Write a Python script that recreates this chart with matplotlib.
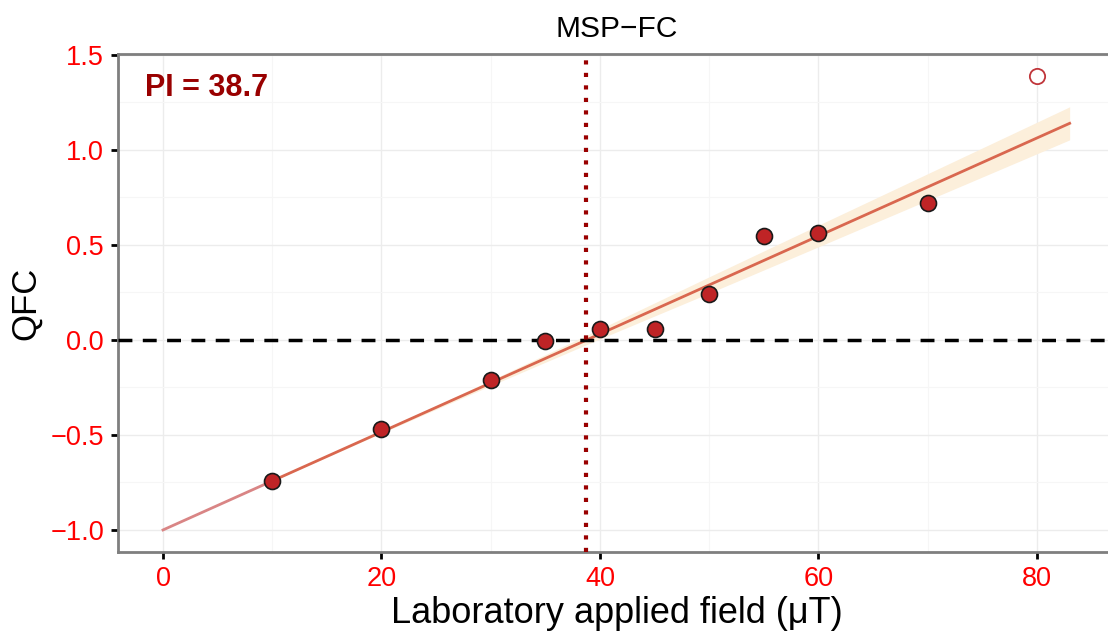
import numpy as np
import matplotlib
matplotlib.use("Agg")
import matplotlib.pyplot as plt
from matplotlib.ticker import MultipleLocator

plt.rcParams['font.family'] = ['Liberation Sans', 'DejaVu Sans']

# measured points (used in fit)
field = [10, 20, 30, 35, 40, 45, 50, 55, 60, 70]
qfc = [-0.74, -0.47, -0.21, -0.005, 0.055, 0.055, 0.24, 0.545, 0.565, 0.72]

# excluded point
field_out = [80]
qfc_out = [1.39]

# fitted line: extrapolated part and fitted range
ext_x = [0, 10]
ext_y = [-1.0, -0.742]
fit_x = [10, 83]
fit_y = [-0.742, 1.14]

# ribbon half-width
band_x = [10, 20, 30, 40, 50, 60, 70, 83]
band_hw = [0.002, 0.006, 0.014, 0.026, 0.043, 0.057, 0.070, 0.087]

pi_value = 38.7

fig = plt.figure(figsize=(11.08, 6.32), dpi=100)
ax = fig.add_axes([0.1065, 0.1266, 0.8998, 0.788])

# grid like ggplot theme_bw
ax.xaxis.set_major_locator(MultipleLocator(20))
ax.xaxis.set_minor_locator(MultipleLocator(10))
ax.yaxis.set_major_locator(MultipleLocator(0.5))
ax.yaxis.set_minor_locator(MultipleLocator(0.25))
ax.grid(True, which='major', color='#ececec', linewidth=1.0)
ax.grid(True, which='minor', color='#f6f6f6', linewidth=0.8)
ax.set_axisbelow(True)

# ribbon
line_band = np.interp(band_x, fit_x, fit_y)
ax.fill_between(band_x, line_band - np.array(band_hw), line_band + np.array(band_hw),
                color='#fcefdb', linewidth=0, zorder=2)

ax.plot(ext_x, ext_y, color='#d98585', linewidth=2, zorder=3)
ax.plot(fit_x, fit_y, color='#d9674f', linewidth=2, zorder=3)

ax.axhline(0, color='black', linestyle=(0, (4, 3)), linewidth=2.5, zorder=4)
ax.axvline(pi_value, color='#990000', linestyle=(0, (1, 2)), linewidth=3, zorder=4)

ax.plot(field, qfc, 'o', markersize=11.5, markerfacecolor='#bf2426',
        markeredgecolor='#1a1a1a', markeredgewidth=1.2, zorder=5)
ax.plot(field_out, qfc_out, 'o', markersize=11, markerfacecolor='white',
        markeredgecolor='#c0353a', markeredgewidth=1.3, zorder=5)

ax.text(-1.65, 1.326, f'PI = {pi_value}', color='#990000', fontsize=22,
        fontweight='bold', ha='left', va='center')

ax.set_xlim(-4.12, 87.15)
ax.set_ylim(-1.116, 1.505)
ax.set_xticks([0, 20, 40, 60, 80])
ax.set_yticks([-1.0, -0.5, 0.0, 0.5, 1.0, 1.5])
ax.set_yticklabels(['\u22121.0', '\u22120.5', '0.0', '0.5', '1.0', '1.5'])

ax.tick_params(which='major', length=5, width=2, color='black',
               labelcolor='#ff0000', labelsize=19.5, pad=5)
ax.tick_params(which='minor', length=0)
for s in ax.spines.values():
    s.set_color('#7f7f7f')
    s.set_linewidth(2)

ax.set_xlabel('Laboratory applied field (\u03bcT)', fontsize=26, labelpad=3)
ax.set_ylabel('QFC', fontsize=25, labelpad=6)
ax.set_title('MSP\u2212FC', fontsize=21.5, pad=12)

fig.savefig('out.png', dpi=100)
